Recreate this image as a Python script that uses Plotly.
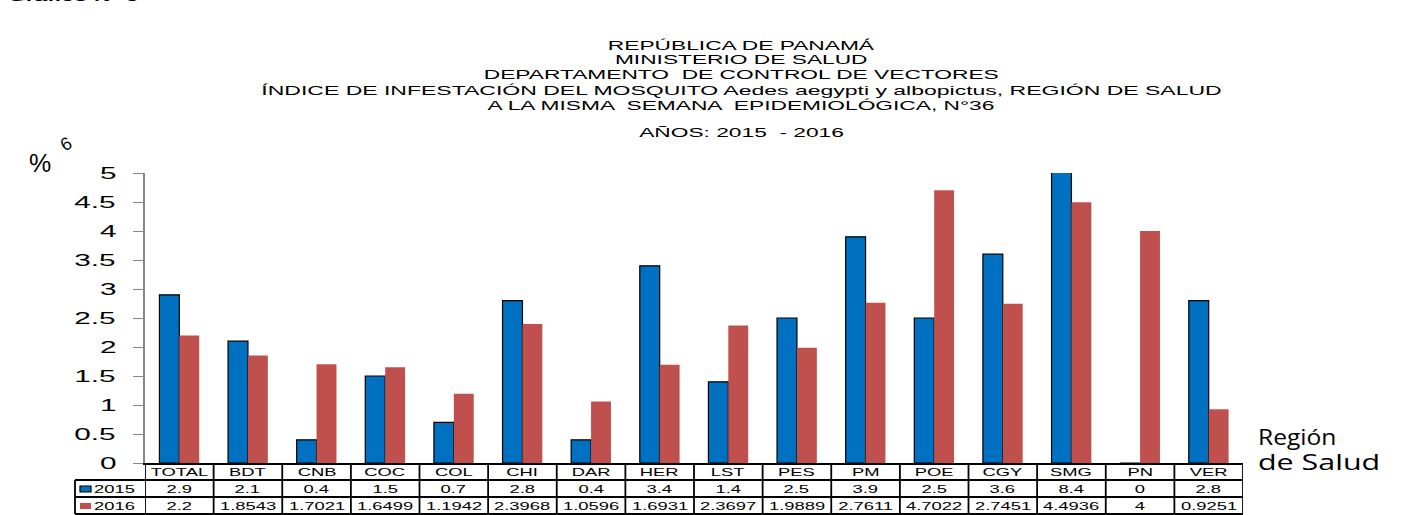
import plotly.graph_objects as go

regions = ["TOTAL", "BDT", "CNB", "COC", "COL", "CHI", "DAR", "HER", "LST", "PES", "PM", "POE", "CGY", "SMG", "PN", "VER"]
v2015 = [2.9, 2.1, 0.4, 1.5, 0.7, 2.8, 0.4, 3.4, 1.4, 2.5, 3.9, 2.5, 3.6, 8.4, 0, 2.8]
v2016 = [2.2, 1.8543, 1.7021, 1.6499, 1.1942, 2.3968, 1.0596, 1.6931, 2.3697, 1.9889, 2.7611, 4.7022, 2.7451, 4.4936, 4, 0.9251]
t2015 = ["2.9", "2.1", "0.4", "1.5", "0.7", "2.8", "0.4", "3.4", "1.4", "2.5", "3.9", "2.5", "3.6", "8.4", "0", "2.8"]
t2016 = ["2.2", "1.8543", "1.7021", "1.6499", "1.1942", "2.3968", "1.0596", "1.6931", "2.3697", "1.9889", "2.7611", "4.7022", "2.7451", "4.4936", "4", "0.9251"]
ytick_vals = [0, 0.5, 1, 1.5, 2, 2.5, 3, 3.5, 4, 4.5, 5]
ytick_text = ["0", "0.5", "1", "1.5", "2", "2.5", "3", "3.5", "4", "4.5", "5"]

BLUE = "#0070C0"
RED = "#C0504D"
FONT = "Liberation Sans, Arial, sans-serif"

n = len(regions)
xs = list(range(n))

fig = go.Figure()
fig.add_trace(go.Bar(x=xs, y=v2015, name="2015", marker=dict(color=BLUE, line=dict(color="black", width=1.2))))
fig.add_trace(go.Bar(x=xs, y=v2016, name="2016", marker=dict(color=RED, line=dict(width=0))))

W, H = 1405, 515
L, R, T, B = 145, 162, 173, 52
ph = H - T - B
pw = W - L - R
def py(pix):
    return (H - B - pix) / ph
def px(pix):
    return (pix - L) / pw

fig.update_layout(
    width=W, height=H,
    margin=dict(l=L, r=R, t=T, b=B),
    paper_bgcolor="white", plot_bgcolor="white",
    barmode="group", bargap=0.42, bargroupgap=0,
    showlegend=False,
    font=dict(family=FONT, color="black"),
    xaxis=dict(range=[-0.5, n - 0.5], showticklabels=False, ticks="", showgrid=False,
               zeroline=False, showline=True, linecolor="black", linewidth=1.5, fixedrange=True),
    yaxis=dict(range=[0, 5], tickvals=ytick_vals, showticklabels=False, ticks="outside", ticklen=10,
               tickcolor="#868686", tickwidth=1.2, showgrid=False, zeroline=False, showline=True,
               linecolor="#868686", linewidth=1.5),
)

# y tick labels
for v, t in zip(ytick_vals, ytick_text):
    fig.add_annotation(text=t, xref="paper", yref="y", x=0, y=v, xshift=-27, xanchor="right", align="right",
                       yanchor="middle", showarrow=False, font=dict(size=17, family=FONT))

title_lines = [
    ("REPÚBLICA DE PANAMÁ", 45),
    ("MINISTERIO DE SALUD", 59),
    ("DEPARTAMENTO  DE CONTROL DE VECTORES", 74),
    ("ÍNDICE DE INFESTACIÓN DEL MOSQUITO Aedes aegypti y albopictus, REGIÓN DE SALUD", 90),
    ("A LA MISMA  SEMANA  EPIDEMIOLÓGICA, N°36", 105),
    ("AÑOS: 2015  - 2016", 132),
]
for txt, yp in title_lines:
    fig.add_annotation(text=txt, xref="paper", yref="paper", x=px(741), y=py(yp),
                       xanchor="center", yanchor="middle", showarrow=False,
                       font=dict(size=13, family=FONT, color="black"))

fig.add_annotation(text="<b>Gráfico N° 6</b>", xref="paper", yref="paper", x=px(6), y=py(-3),
                   xanchor="left", align="left", yanchor="middle", showarrow=False, font=dict(size=13, family=FONT))
fig.add_annotation(text="%", xref="paper", yref="paper", x=px(40), y=py(163),
                   xanchor="center", yanchor="middle", showarrow=False, font=dict(size=25, family=FONT))
fig.add_annotation(text="6", xref="paper", yref="paper", x=px(66), y=py(144),
                   xanchor="center", yanchor="middle", showarrow=False, font=dict(size=18, family=FONT),
                   textangle=-30)

fig.add_annotation(text="Región", xref="paper", yref="paper", x=px(1256), y=py(437),
                   xanchor="left", align="left", yanchor="middle", showarrow=False,
                   font=dict(size=21, family="Open Sans, sans-serif"))
fig.add_annotation(text="de Salud", xref="paper", yref="paper", x=px(1256), y=py(462),
                   xanchor="left", align="left", yanchor="middle", showarrow=False,
                   font=dict(size=21, family="Open Sans, sans-serif"))

# data table under the axis
line = dict(color="black", width=1.8)
for i in range(n + 1):
    fig.add_shape(type="line", xref="x", yref="paper", x0=i - 0.5, x1=i - 0.5, y0=py(463), y1=py(514), line=line)
for rp in (480, 497, 514):
    fig.add_shape(type="line", xref="paper", yref="paper", x0=px(75), x1=1, y0=py(rp), y1=py(rp), line=line)
fig.add_shape(type="line", xref="paper", yref="paper", x0=px(75), x1=px(75), y0=py(480), y1=py(514), line=line)

tfont = dict(size=10.5, family=FONT, color="black")
for i, r in enumerate(regions):
    fig.add_annotation(text=r, xref="x", yref="paper", x=i, y=py(471.5), xanchor="center", yanchor="middle",
                       showarrow=False, font=tfont)
    fig.add_annotation(text=t2015[i], xref="x", yref="paper", x=i, y=py(488.5), xanchor="center", yanchor="middle",
                       showarrow=False, font=tfont)
    fig.add_annotation(text=t2016[i], xref="x", yref="paper", x=i, y=py(505.5), xanchor="center", yanchor="middle",
                       showarrow=False, font=tfont)

# legend keys in table
fig.add_shape(type="rect", xref="paper", yref="paper", x0=px(80), x1=px(91), y0=py(492), y1=py(486),
              fillcolor=BLUE, line=dict(color="black", width=1.2))
fig.add_shape(type="rect", xref="paper", yref="paper", x0=px(80), x1=px(91), y0=py(509), y1=py(503),
              fillcolor=RED, line=dict(width=0))
for yr, yp in (("2015", 488.5), ("2016", 505.5)):
    fig.add_annotation(text=yr, xref="paper", yref="paper", x=px(92), y=py(yp),
                       xanchor="left", align="left", yanchor="middle", showarrow=False, font=tfont)

post = """
document.body.style.margin = '0';
document.querySelectorAll('.annotation-text').forEach(function (t) {
  var s = t.textContent;
  var f = 1.75;
  if (s === 'Región') f = 1.17;
  else if (s === 'de Salud') f = 1.45;
  else if (s === '%' || s === '6') f = 1.0;
  else if (s.indexOf('ÍNDICE') === 0) f = 1.77;
  var a = t.getAttribute('text-anchor');
  var o = a === 'end' ? 'right center' : (a === 'start' ? 'left center' : 'center');
  t.style.transformBox = 'fill-box';
  t.style.transformOrigin = o;
  t.style.transform = 'scaleX(' + f + ')';
});
"""

fig.write_html("out.html", post_script=post, config={"displayModeBar": False})
